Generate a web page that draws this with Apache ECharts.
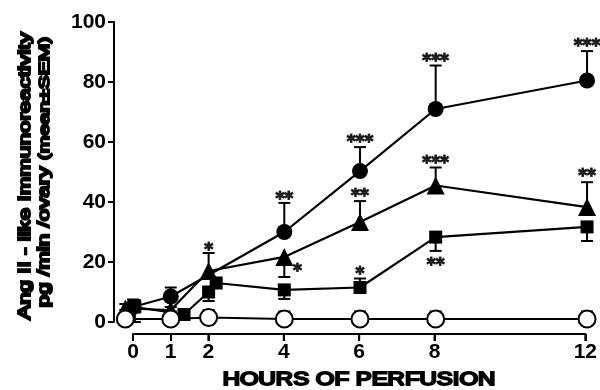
<!DOCTYPE html>
<html><head><meta charset="utf-8">
<script src="https://cdn.jsdelivr.net/npm/echarts@6/dist/echarts.min.js"></script>
<style>html,body{margin:0;padding:0;background:#fff}#c{width:600px;height:390px}</style>
</head><body><div id="c"></div>
<script>
// x tick labels (hours)
var tickHours = [0, 1, 2, 4, 6, 8, 12];
var yTicks = [0, 20, 40, 60, 80, 100];

// Open circles (control)
var ctrlX = [-0.2, 1, 2, 4, 6, 8, 12];
var ctrlY = [1, 1, 1.5, 1, 1, 1, 1];
var ctrlLo = [0, 0, 0, 0, 0, 0, 0];
var ctrlHi = [3, 2.5, 2.5, 2.5, 2.5, 2.5, 2.5];

// Filled circles
var circX = [0, 1, 4, 6, 8, 12];
var circY = [5, 8.5, 30, 50.3, 71, 80.5];
var circLo = [0, 0, 0, 0, 0, 0];
var circHi = [2.5, 3, 9.7, 8, 14.5, 9.8];

// Filled triangles
var triX = [-0.2, 1, 2, 4, 6, 8, 12];
var triY = [4.5, 4, 17, 21.7, 33.3, 45.5, 38.3];
var triLo = [0, 0, 0, 6.7, 0, 0, 0];
var triHi = [1.5, 1, 6, 0, 7, 6, 8.3];

// Filled squares
var sqX = [0.05, 1.35, 2, 2.2, 4, 6, 8, 12];
var sqY = [5, 2.5, 10, 13, 10.7, 11.5, 28.3, 31.7];
var sqLo = [5, 0, 3, 0, 3, 0, 4.6, 4.7];
var sqHi = [2.3, 0, 0, 0, 0.5, 3, 0, 0];

// significance marks: hour, value, text
var starX = [2, 4, 4.35, 6, 6, 6, 8, 8, 8, 12, 12];
var starY = [25, 42.3, 18.3, 61.3, 43, 17.3, 88, 54, 20, 93, 49.7];
var starT = ['*', '**', '*', '***', '**', '*', '***', '***', '**', '***', '**'];

function zip(xs, ys) { return xs.map(function (x, i) { return [x, ys[i]]; }); }
function errData(xs, ys, lo, hi) { return xs.map(function (x, i) { return [x, ys[i], lo[i], hi[i]]; }); }

function renderErr(params, api) {
  var x = api.value(0), y = api.value(1), lo = api.value(2), hi = api.value(3);
  var c = api.coord([x, y]);
  var ch = [];
  var st = { stroke: '#000', lineWidth: 2 };
  function bar(v) {
    var p = api.coord([x, v]);
    ch.push({ type: 'line', shape: { x1: c[0], y1: c[1], x2: p[0], y2: p[1] }, style: st });
    ch.push({ type: 'line', shape: { x1: p[0] - 6, y1: p[1], x2: p[0] + 6, y2: p[1] }, style: st });
  }
  if (hi > 0) bar(y + hi);
  if (lo > 0) bar(y - lo);
  return { type: 'group', children: ch };
}

var font = 'Liberation Sans';
var lineStyle = { color: '#000', width: 2.2 };

function lineSeries(xs, ys, symbol, size, open) {
  return {
    type: 'line', xAxisIndex: 0, yAxisIndex: 0, data: zip(xs, ys),
    symbol: symbol, symbolSize: size, showSymbol: true, clip: false,
    lineStyle: lineStyle, z: 3, animation: false,
    itemStyle: open ? { color: '#fff', borderColor: '#000', borderWidth: 2 } : { color: '#000', borderWidth: 0 }
  };
}
function errSeries(xs, ys, lo, hi) {
  return { type: 'custom', xAxisIndex: 0, yAxisIndex: 0, renderItem: renderErr,
    data: errData(xs, ys, lo, hi), encode: { x: 0, y: 1 }, z: 2, clip: false, animation: false };
}

var chart = echarts.init(document.getElementById('c'), null, { renderer: 'canvas' });
chart.setOption({
  backgroundColor: '#fff',
  animation: false,
  grid: [
    { left: 114, right: 3.5, top: 22, bottom: 68 },
    { left: 133, right: 13, top: 333, height: 1 },
    { left: 114, width: 1, top: 22, bottom: 68 }
  ],
  xAxis: [
    { type: 'value', gridIndex: 0, min: -0.5, max: 12.25, show: false },
    { type: 'value', gridIndex: 1, min: 0, max: 12, position: 'bottom',
      axisLine: { show: true, lineStyle: { color: '#000', width: 2 } },
      axisTick: { show: true, length: 7, lineStyle: { color: '#000', width: 2 }, customValues: tickHours },
      axisLabel: { show: true, color: '#000', fontFamily: font, fontWeight: 'bold', fontSize: 21, margin: 8, customValues: tickHours },
      splitLine: { show: false } },
    { type: 'value', gridIndex: 2, min: 0, max: 1, show: false }
  ],
  yAxis: [
    { type: 'value', gridIndex: 0, min: 0, max: 100, interval: 20, show: false },
    { type: 'value', gridIndex: 1, show: false },
    { type: 'value', gridIndex: 2, min: 0, max: 100, interval: 20, position: 'left',
      axisLine: { show: true, lineStyle: { color: '#000', width: 2 } },
      axisTick: { show: true, length: 6, lineStyle: { color: '#000', width: 2 } },
      axisLabel: { color: '#000', fontFamily: font, fontWeight: 'bold', fontSize: 21, margin: 8 },
      splitLine: { show: false } }
  ],
  series: [
    errSeries(ctrlX, ctrlY, ctrlLo, ctrlHi),
    errSeries(circX, circY, circLo, circHi),
    errSeries(triX, triY, triLo, triHi),
    errSeries(sqX, sqY, sqLo, sqHi),
    lineSeries(circX, circY, 'circle', 16, false),
    lineSeries(triX, triY, 'triangle', 18, false),
    lineSeries(sqX, sqY, 'rect', 13, false),
    lineSeries(ctrlX, ctrlY, 'circle', 17, true),
    {
      type: 'scatter', xAxisIndex: 0, yAxisIndex: 0, symbolSize: 1, clip: false,
      itemStyle: { color: 'rgba(0,0,0,0)' }, z: 5, silent: true,
      data: starX.map(function (x, i) { return { value: [x, starY[i]], name: starT[i] }; }),
      label: { show: true, position: 'inside', formatter: function (p) { return p.name; },
        color: '#000', fontFamily: 'DejaVu Sans', fontWeight: 'bold', fontSize: 17, offset: [0, 4],
        textBorderColor: '#000', textBorderWidth: 1.2 }
    }
  ],
  graphic: [
    { type: 'text', x: 26, y: 176, rotation: Math.PI / 2, scaleX: 1.4,
      style: { text: 'Ang II - like Immunoreactivity', fontFamily: font, fontSize: 16, fill: '#000',
        align: 'center', verticalAlign: 'middle' } },
    { type: 'text', x: 45, y: 172, rotation: Math.PI / 2, scaleX: 1.4,
      style: { text: '{a|pg /min /ovary }{b|(mean±SEM)}', fill: '#000', align: 'center', verticalAlign: 'middle',
        rich: { a: { fontFamily: font, fontSize: 16, fill: '#000' }, b: { fontFamily: font, fontSize: 15, fill: '#000' } } } },
    { type: 'text', x: 359, y: 380, scaleX: 1.33,
      style: { text: 'HOURS OF PERFUSION', fontFamily: font, fontSize: 18, fill: '#000',
        align: 'center', verticalAlign: 'middle' } }
  ]
});

// detached x-axis baseline and ticks, positioned through the bottom axis scale
var axisEls = [];
var st = { stroke: '#000', lineWidth: 2 };
var a = chart.convertToPixel({ xAxisIndex: 1, yAxisIndex: 1 }, [tickHours[0], 0]);
var b = chart.convertToPixel({ xAxisIndex: 1, yAxisIndex: 1 }, [tickHours[tickHours.length - 1], 0]);
var baseY = chart.convertToPixel({ gridIndex: 1 }, [0, 0]);
var gy = 334;
if (baseY && isFinite(baseY[1])) { gy = baseY[1]; }
if (a && b && isFinite(a[0]) && isFinite(b[0])) {
  axisEls.push({ type: 'line', z: 100, shape: { x1: a[0] - 1, y1: gy, x2: b[0] + 1, y2: gy }, style: st });
  tickHours.forEach(function (h) {
    var p = chart.convertToPixel({ xAxisIndex: 1, yAxisIndex: 1 }, [h, 0]);
    axisEls.push({ type: 'line', z: 100, shape: { x1: p[0], y1: gy, x2: p[0], y2: gy + 7 }, style: st });
  });
}
chart.setOption({ graphic: axisEls.length ? [{ type: 'group', id: 'xaxisgrp', z: 100, children: axisEls }] : [] });
</script></body></html>
